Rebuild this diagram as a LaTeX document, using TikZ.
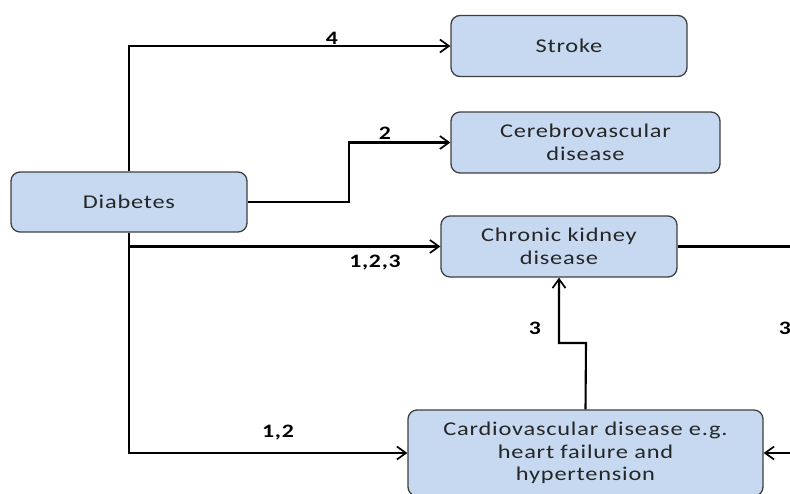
\documentclass[tikz,border=0pt]{standalone}
\usepackage{fontspec}
\setmainfont{Carlito}[FakeStretch=1.25,LetterSpace=4]
\usetikzlibrary{arrows.meta}
\definecolor{boxblue}{HTML}{C6D9F1}
\definecolor{boxline}{HTML}{3F3F3F}
\definecolor{ink}{HTML}{262626}
\begin{document}
\begin{tikzpicture}[x=1pt,y=-1pt,
  box/.style={draw=boxline,line width=1.3pt,fill=boxblue,rounded corners=9pt,
    align=center,text=ink,inner sep=0pt,font=\fontsize{19.5}{22.5}\selectfont},
  link/.style={line width=2.1pt,draw=black,
    -{Straight Barb[length=9pt,width=13pt,line width=1.7pt]}},
  num/.style={font=\bfseries\fontsize{19}{20}\selectfont,text=black,inner sep=0pt}]
\useasboundingbox (0,0) rectangle (790,493);
\clip (0,0) rectangle (790,493);

% boxes
\node[box,minimum width=236pt,minimum height=60pt] (dia) at (129,202) {Diabetes};
\node[box,minimum width=236pt,minimum height=61pt] (stroke) at (569,46) {Stroke};
\node[box,minimum width=269pt,minimum height=61pt] (cereb) at (585.5,142.5) {Cerebrovascular\\disease};
\node[box,minimum width=236pt,minimum height=61pt] (ckd) at (559,246.5) {Chronic kidney\\disease};
\node[box,minimum width=355pt,minimum height=86pt] (cvd) at (585.5,453) {Cardiovascular disease e.g.\\heart failure and\\hypertension};

% bend points
\coordinate (j1) at (349,202);
\coordinate (j2) at (586,343);
\coordinate (loop) at (810,246.5);

% connectors
\draw[link] (dia.north) |- (stroke.west);
\draw[link] (dia.east) -- (j1) |- (cereb.west);
\draw[link] (dia.south) |- (ckd.west);
\draw[link] (dia.south) |- (cvd.west);
\draw[link] (cvd.north) -- (j2) -| (ckd.south);
\draw[link] (ckd.east) -- (loop) |- (cvd.east);

% labels
\node[num] (l4) at (332,38) {4};
\node[num] (l2) at (385,133) {2};
\node[num] (l123) at (375,263) {1,2,3};
\node[num] (l12) at (278,433) {1,2};
\node[num] (l3a) at (535,328) {3};
\node[num] (l3b) at (785,328) {3};
\end{tikzpicture}
\end{document}
